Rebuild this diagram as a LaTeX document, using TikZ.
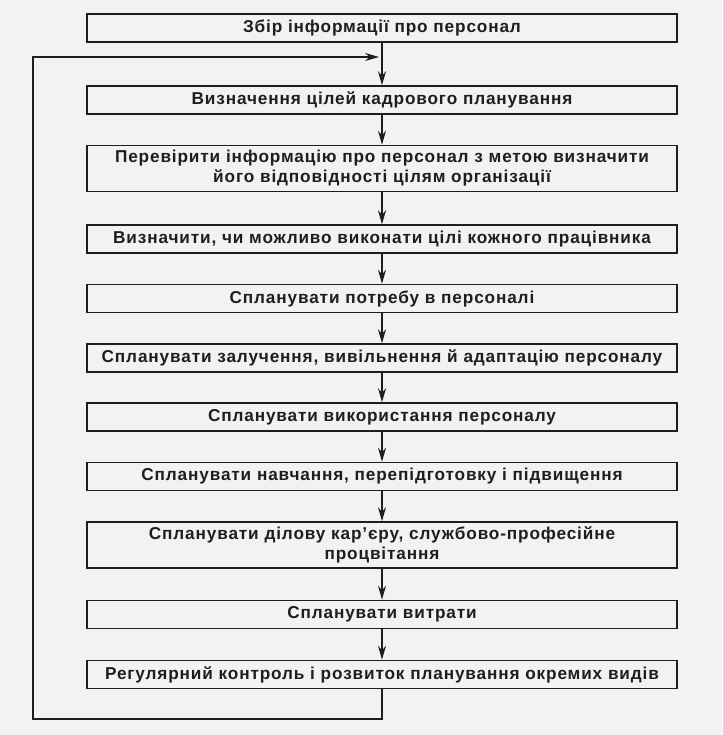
\documentclass[tikz,border=0pt]{standalone}
\usepackage{fontspec}
\setmainfont{Liberation Sans}[LetterSpace=5]
\usetikzlibrary{arrows.meta}
\definecolor{paper}{RGB}{242,242,240}
\definecolor{ink}{RGB}{30,30,30}
\newcommand\colorBox{ink}
\newcommand\boxWidth{590}
\newcommand\chartX{382}
\tikzset{
	stage/.style={draw=\colorBox, line width=1.6pt, fill=paper, text=ink,
		minimum width=\boxWidth, minimum height=28, text width=584,
		align=center, inner sep=2pt, font=\bfseries\fontsize{17.2}{20}\selectfont},
	stageTall/.style={stage, minimum height=46},
	flow/.style={draw=\colorBox, line width=1.2pt, -{Stealth[length=14pt,width=8pt]}}
}
\begin{document}
\begin{tikzpicture}[x=1pt,y=-1pt]
	\fill[paper] (0,0) rectangle (722,735);
	\useasboundingbox (0,0) rectangle (722,735);

	\node[stage] (b1) at (\chartX,28) {Збір інформації про персонал};
	\node[stage] (b2) at (\chartX,100) {Визначення цілей кадрового планування};
	\node[stageTall] (b3) at (\chartX,168.5) {Перевірити інформацію про персонал з метою визначити\\його відповідності цілям організації};
	\node[stage] (b4) at (\chartX,239) {Визначити, чи можливо виконати цілі кожного працівника};
	\node[stage] (b5) at (\chartX,298.5) {Спланувати потребу в персоналі};
	\node[stage] (b6) at (\chartX,358) {Спланувати залучення, вивільнення й адаптацію персоналу};
	\node[stage] (b7) at (\chartX,417) {Спланувати використання персоналу};
	\node[stage] (b8) at (\chartX,476.5) {Спланувати навчання, перепідготовку і підвищення};
	\node[stageTall] (b9) at (\chartX,545) {Спланувати ділову кар’єру, службово-професійне\\процвітання};
	\node[stage] (b10) at (\chartX,614.5) {Спланувати витрати};
	\node[stage] (b11) at (\chartX,674.5) {Регулярний контроль і розвиток планування окремих видів};

	% arrows down the chart
	\foreach \i [evaluate=\i as \j using int(\i+1)] in {1,...,10}{
		\draw[flow] (b\i) -- (b\j);
	}

	% feedback loop
	\coordinate (loopCorner) at (33,719);
	\coordinate (loopJoin) at (\chartX-3,57);
	\draw[flow] (b11.south) |- (loopCorner) |- (loopJoin);
\end{tikzpicture}
\end{document}
